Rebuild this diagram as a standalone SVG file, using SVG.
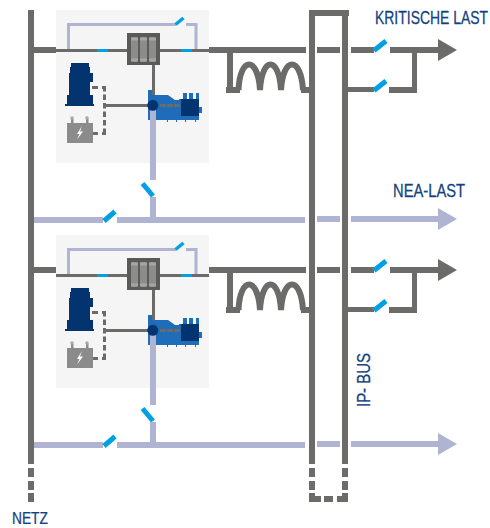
<svg xmlns="http://www.w3.org/2000/svg" xmlns:xlink="http://www.w3.org/1999/xlink" width="490" height="528" viewBox="0 0 490 528">
<style>
.g{fill:#6b6b6a}
.l{fill:#afb4d2}
.sw{stroke:#00a0e3;stroke-width:5;fill:none}
.cy{fill:#00a0e3}
.d{fill:#04346f}
.b{fill:#1f6db8}
.t{font-family:"Liberation Sans",Arial,sans-serif;font-size:18px;fill:#124280;stroke:#124280;stroke-width:.25}
.ds{stroke:#6b6b6a;stroke-width:3;fill:none}
</style>
<defs>
<g id="ups">
<rect x="56" y="10" width="153" height="153" fill="#f5f5f5"/>
<path d="M68.500 49V24.500H176M186 24.500H196V49" fill="none" stroke="#afb4d2" stroke-width="3"/>
<path d="M175.500 24.500L183.500 18" stroke="#00a0e3" stroke-width="3.500" fill="none"/>
<rect class="g" x="56" y="49" width="153" height="3"/>
<rect class="cy" x="97" y="49" width="11" height="3"/>
<rect class="cy" x="181" y="49" width="11" height="3"/>
<rect x="127" y="33" width="33" height="32" fill="#5a5a59"/>
<rect x="131" y="37" width="7" height="25" rx="2" fill="#8c8c8b"/>
<rect x="140" y="37" width="7" height="25" rx="2" fill="#8c8c8b"/>
<rect x="149" y="37" width="7" height="25" rx="2" fill="#8c8c8b"/>
<path d="M131 39H138M140 39H147M149 39H156M131 60H138M140 60H147M149 60H156" stroke="#a5a5a4" stroke-width="3"/>
<rect class="g" x="152" y="65" width="3" height="40"/>
<path class="d" d="M71 63H89V67H90V73H93V82H90V95H93V104H94V106H65V104H67V95H69V73H70V67H71z"/>
<path class="ds" d="M92 87.500H98M92 133.500H98"/>
<path class="ds" d="M104.500 86V134" stroke-dasharray="5.500 3"/>
<rect class="g" x="102" y="86" width="4" height="3"/>
<rect class="g" x="102" y="132" width="4" height="3"/>
<rect class="g" x="104" y="104" width="44" height="3"/>
<rect x="67" y="123" width="26" height="20" fill="#8b8b8b"/>
<rect x="71" y="119" width="2.500" height="5" fill="#8b8b8b"/>
<rect x="86" y="119" width="2.500" height="5" fill="#8b8b8b"/>
<circle cx="72" cy="118" r="1.800" fill="#a9a9a9"/>
<circle cx="87" cy="118" r="1.800" fill="#a9a9a9"/>
<path d="M82 126L77 134H79.500L77 139.500L83 131.500H80z" fill="#fff"/>
<path class="b" d="M148 90H152V95H168L175 100H179V99H183V93H187V99H189V93H193V99H196V93H199V107H202V113H199V120H196V122H195V120H186V122H185V120H177V122H176V120H168V122H167V120H160V120H148z"/>
<rect class="d" x="181" y="99" width="18" height="17"/>
<rect class="l" x="150" y="110" width="6" height="70"/>
<circle class="d" cx="152.800" cy="105.300" r="5.500"/>
<path d="M160 105.500H180" stroke="#6b6b6a" stroke-width="3" stroke-dasharray="6 1"/>
<path d="M142.500 183.500L153 196" stroke="#00a0e3" stroke-width="5" fill="none"/>
<rect class="l" x="150" y="197" width="6" height="20"/>
<rect class="l" x="34" y="217" width="69" height="6"/>
<path class="sw" d="M104 221L115 211.500"/>
<rect class="l" x="117" y="217" width="188" height="6"/>
<rect class="l" x="317" y="216" width="23" height="6"/>
</g>
<g id="power">
<rect class="g" x="34" y="47" width="22" height="6"/>
<rect class="g" x="209" y="47" width="97" height="6"/>
<rect class="g" x="227" y="50" width="6" height="43"/>
<rect class="g" x="226" y="87" width="14" height="6"/>
<path d="M238.500 90C240 56 258 56 260 90C262 56 279 56 281 90C283 56 301 56 303 90" fill="none" stroke="#6b6b6a" stroke-width="6"/>
<rect class="g" x="301" y="87" width="9" height="6"/>
<rect class="g" x="317" y="47" width="23" height="6"/>
<rect class="g" x="351" y="47" width="23" height="6"/>
<path class="sw" d="M374 50.500L386 41"/>
<rect class="g" x="390" y="47" width="48" height="6"/>
<path class="g" d="M438 39L457 50L438 61z"/>
<rect class="g" x="412" y="50" width="5" height="43"/>
<rect class="g" x="348" y="87" width="26" height="5"/>
<path class="sw" d="M374 90.500L386 81"/>
<rect class="g" x="389" y="87" width="28" height="6"/>
</g>
</defs>
<g id="module-1"><use xlink:href="#ups" href="#ups"/><use xlink:href="#power" href="#power"/></g>
<g id="module-2"><use xlink:href="#ups" href="#ups" y="225"/><use xlink:href="#power" href="#power" y="220"/></g>
<g id="connectors">
<rect class="g" x="28" y="10" width="6" height="454"/>
<rect class="g" x="28" y="468" width="6" height="9"/>
<rect class="g" x="28" y="481" width="6" height="9"/>
<rect class="g" x="28" y="493" width="6" height="9"/>
<rect class="g" x="309" y="10" width="6" height="454"/>
<rect class="g" x="342" y="10" width="6" height="454"/>
<rect class="g" x="309" y="10" width="40" height="6"/>
<rect class="g" x="309" y="468" width="6" height="9"/>
<rect class="g" x="309" y="481" width="6" height="9"/>
<rect class="g" x="342" y="468" width="6" height="9"/>
<rect class="g" x="342" y="481" width="6" height="9"/>
<path class="g" d="M309 493H315V496H321V502H309z"/>
<rect class="g" x="324" y="496" width="9" height="6"/>
<path class="g" d="M342 493H348V502H337V496H342z"/>
<rect class="l" x="351" y="216" width="87" height="6"/>
<path class="l" d="M438 208L457 219L438 230z"/>
<rect class="l" x="351" y="441" width="87" height="6"/>
<path class="l" d="M438 433L457 444L438 455z"/>
</g>
<g id="labels">
<text class="t" transform="translate(375 24) scale(.775 1)">KRITISCHE LAST</text>
<text class="t" transform="translate(393 197) scale(.82 1)">NEA-LAST</text>
<text class="t" style="font-size:17px" transform="translate(12 524) scale(.81 1)">NETZ</text>
<text class="t" transform="translate(370 407) rotate(-90) scale(.83 1)">IP- BUS</text>
</g>
</svg>
